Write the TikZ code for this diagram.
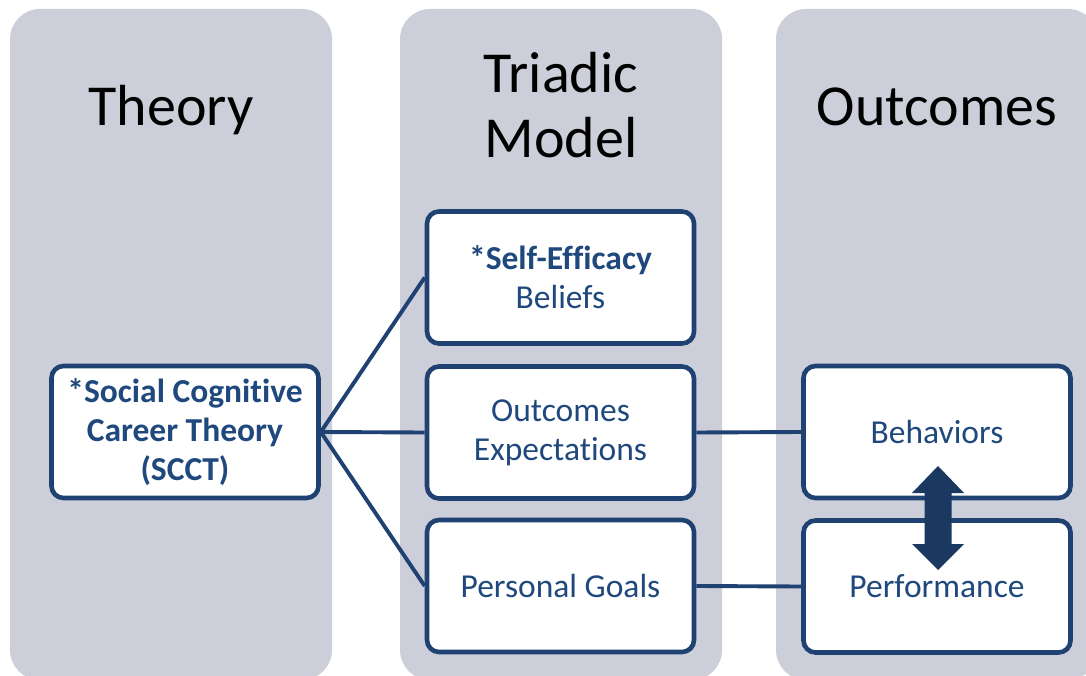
\documentclass[tikz,border=0pt]{standalone}
\usepackage{fontspec}
\setmainfont{Carlito}[RawFeature={-liga}]
\begin{document}
\definecolor{colbg}{RGB}{204,207,217}
\definecolor{navy}{RGB}{31,66,114}
\definecolor{navytext}{RGB}{31,73,125}
\definecolor{arrowfill}{RGB}{27,56,96}
\begin{tikzpicture}[x=1pt,y=-1pt,
  column/.style={fill=colbg, rounded corners=30pt},
  title/.style={font=\fontsize{58}{66}\selectfont, text=black, align=center, inner sep=0pt},
  card/.style={draw=navy, line width=4.6pt, fill=white, rounded corners=12pt,
    minimum width=267pt, minimum height=132pt, inner sep=0pt,
    text=navytext, align=center, font=\fontsize{33.5}{38.8}\selectfont},
  link/.style={draw=navy, line width=3.9pt}]
  \useasboundingbox (0,0) rectangle (1086,676);
  \begin{scope}
    \clip (0,0) rectangle (1086,676);
    % three background columns
    \fill[column] (10,9) rectangle (332,680);
    \fill[column] (400,9) rectangle (722,680);
    \fill[column] (776,9) rectangle (1098,680);
  \end{scope}

  % column headings
  \node[title, anchor=base] (hTheory) at (171,126) {Theory};
  \node[title, anchor=base] (hTriadic) at (561,93) {Triadic};
  \node[title, anchor=base] (hModel) at (561,158) {Model};
  \node[title, anchor=base] (hOutcomes) at (937,126) {Outcomes};

  % boxes
  \node[card] (scct) at (185,432) {\textbf{*Social Cognitive}\\\textbf{Career Theory}\\\textbf{(SCCT)}};
  \node[card] (se) at (560.5,277.5) {\textbf{*Self-Efficacy}\\Beliefs};
  \node[card] (oe) at (560.5,432.5) {Outcomes\\Expectations};
  \node[card] (pg) at (560.5,586) {Personal Goals};
  \node[card] (beh) at (937,432) {Behaviors};
  \node[card] (perf) at (937,586.5) {Performance};

  % connectors
  \draw[link] (scct.east) -- (se.west);
  \draw[link] (scct.east) -- (oe.west);
  \draw[link] (scct.east) -- (pg.west);
  \draw[link] (oe.east) -- (beh.west);
  \draw[link] (pg.east) -- (perf.west);

  % two-headed block arrow between the outcome boxes
  \fill[arrowfill] (938,466) -- (964,493) -- (951.5,493) -- (951.5,544) -- (964,544)
    -- (938,570) -- (912,544) -- (924.5,544) -- (924.5,493) -- (912,493) -- cycle;
\end{tikzpicture}
\end{document}
